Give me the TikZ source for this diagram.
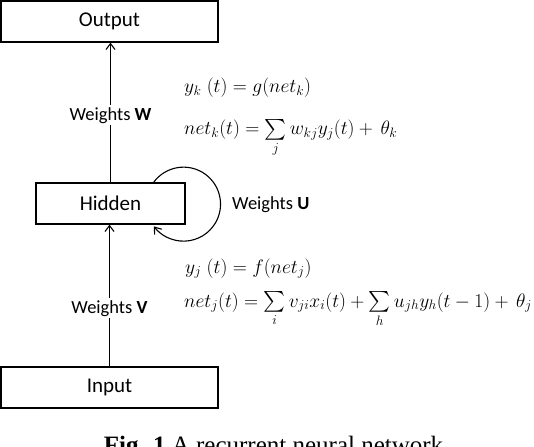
\RequirePackage{fix-cm}
\documentclass[tikz,border=0pt]{standalone}
\usepackage{amsmath}
\usepackage{fontspec}
\setmainfont{Carlito}
\newfontfamily\capfont{Liberation Serif}
\usepackage{tikz}
\usetikzlibrary{positioning,calc,arrows.meta}
\tikzset{
  layer/.style  = {draw=black, line width=1.2pt, fill=white, inner sep=0pt, font=\fontsize{21}{25}\selectfont},
  wlabel/.style = {fill=white, inner sep=2pt, font=\fontsize{18.5}{22}\selectfont},
  eqn/.style    = {anchor=base west, inner sep=0pt, font=\fontsize{19.5}{23}\selectfont},
  link/.style   = {-{Straight Barb[length=6pt,width=9pt]}, line width=1.1pt},
  capt/.style   = {anchor=base, inner sep=0pt, font=\capfont\fontsize{25}{30}\selectfont},
}

\begin{document}
\begin{tikzpicture}[x=1pt,y=-1pt]
  \useasboundingbox (0,0) rectangle (534,446);
  \clip (0,0) rectangle (534,446);

  % ----- layers -----
  \node[layer, minimum width=217pt, minimum height=41pt] (output) at (109.5,21.5) {Output};
  \node[layer, minimum width=149pt, minimum height=41pt] (hidden) at (110.5,203.5) {Hidden};
  \node[layer, minimum width=217pt, minimum height=41pt] (input) at (109.5,387.5) {Input};

  % ----- weights -----
  \draw[link] (hidden.north) -- node[wlabel, pos=0.48] (wW) {Weights \textbf{W}} (hidden.north |- output.south);
  \draw[link] (input.north) -- node[wlabel, pos=0.41] (wV) {Weights \textbf{V}} (input.north |- hidden.south);
  \draw[link] ([xshift=-32pt]hidden.north east) arc[start angle=-144, end angle=143, radius=37];
  \node[wlabel, anchor=west, fill=none] (wU) at (230,205) {Weights \textbf{U}};

  % ----- equations -----
  \node[eqn] (yk) at (184,93) {$y_k\;(t) = g(net_k)$};
  \node[eqn] (netk) at (184,135) {$net_k(t) = \sum\limits_j w_{kj}y_j(t) + \,\theta_k$};
  \node[eqn] (yj) at (185,273) {$y_j\;(t) = f(net_j)$};
  \node[eqn] (netj) at (184,307) {$net_j(t) = \sum\limits_i v_{ji}x_i(t) + \sum\limits_h u_{jh}y_h(t-1) + \,\theta_j$};

  % ----- caption -----
  \node[capt] (caption) at (273.5,453.5) {\textbf{Fig. 1} A recurrent neural network};
\end{tikzpicture}
\end{document}
